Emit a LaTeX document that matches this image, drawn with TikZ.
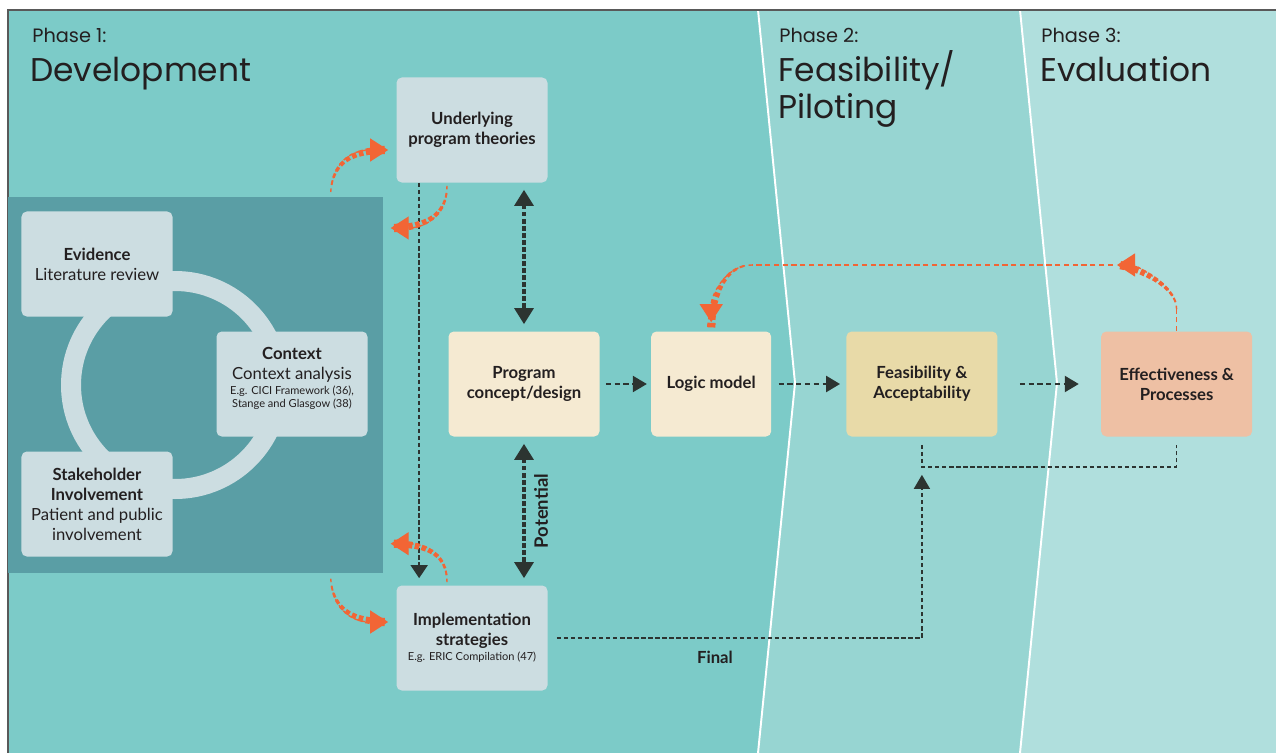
\documentclass[tikz,border=0pt]{standalone}
\usepackage{fontspec}
\setmainfont{Lato}
\newfontfamily\headfont{Poppins}
\usetikzlibrary{arrows.meta,positioning,calc,decorations.markings}
\definecolor{phaseA}{HTML}{7CCBC8}
\definecolor{phaseB}{HTML}{97D5D2}
\definecolor{phaseC}{HTML}{B0DFDD}
\definecolor{panelblue}{HTML}{5A9EA5}
\definecolor{boxgrey}{HTML}{CCDDE1}
\definecolor{cream}{HTML}{F5EAD2}
\definecolor{sand}{HTML}{E8DAA8}
\definecolor{peach}{HTML}{EEC0A4}
\definecolor{loopred}{HTML}{F26535}
\definecolor{ink}{HTML}{231F20}
\definecolor{darrow}{HTML}{2C3431}
\newcommand{\smalltxt}{\fontsize{6.3}{7.4}\selectfont}
\tikzset{
 card/.style={rounded corners=3pt, minimum width=3.02cm, minimum height=2.1cm, align=center, inner sep=1pt, text=ink, font=\fontsize{9.5}{11.4}\selectfont},
 boldcard/.style={card, font=\bfseries\fontsize{9.5}{11.4}\selectfont},
 heading/.style={anchor=base west, inner sep=0, text=ink},
 flow/.style={darrow, line width=1.3pt, dash pattern=on 3pt off 2pt, -{Triangle[length=0.28cm,width=0.32cm]}},
 twoway/.style={darrow, line width=1.8pt, dash pattern=on 2.5pt off 1.5pt, {Triangle[length=0.32cm,width=0.38cm]}-{Triangle[length=0.32cm,width=0.38cm]}, shorten <=0.14cm, shorten >=0.14cm},
 fine/.style={darrow, line width=0.9pt, dash pattern=on 2.5pt off 1.5pt},
 loopfine/.style={loopred, line width=0.9pt, dash pattern=on 3pt off 2pt},
 % orange loop: fine dashes that grow towards the head
 loop/.style={loopred, line width=0.8pt, dash pattern=on 2pt off 2pt, -{Triangle[length=0.36cm,width=0.46cm]},
  postaction={decorate}, decoration={markings,
   mark=between positions 0.12 and 0.93 step 0.09 with {
    \pgfmathsetmacro\w{0.35+0.2*\pgfkeysvalueof{/pgf/decoration/mark info/sequence number}}
    \fill[loopred] (-1.3pt,-\w pt) rectangle (1.3pt,\w pt);}}},
}

\begin{document}
\begin{tikzpicture}[x=0.2mm,y=-0.2mm]
\useasboundingbox (0,0) rectangle (1276,753);
% phases
\fill[phaseA] (8,10) -- (758,10) -- (795,383) -- (758,753) -- (8,753) -- cycle;
\fill[phaseB] (758,10) -- (1020,10) -- (1057,383) -- (1020,753) -- (758,753) -- (795,383) -- cycle;
\fill[phaseC] (1020,10) -- (1276,10) -- (1276,753) -- (1020,753) -- (1057,383) -- cycle;
\draw[white, line width=1.1pt] (758,10) -- (795,383) -- (758,753);
\draw[white, line width=1.1pt] (1020,10) -- (1057,383) -- (1020,753);
\draw[gray!70!black, line width=1.2pt] (8,753) |- (1276,10);

\node[heading, font=\headfont\fontsize{11}{13}\selectfont] (ph1) at (32,43) {Phase 1:};
\node[heading, font=\headfont\fontsize{18.7}{21}\selectfont] (dev) at (30,82) {Development};
\node[heading, font=\headfont\fontsize{11}{13}\selectfont] (ph2) at (779,43) {Phase 2:};
\node[heading, font=\headfont\fontsize{18.7}{21}\selectfont] (feasA) at (778,82) {Feasibility/};
\node[heading, font=\headfont\fontsize{18.7}{21}\selectfont] (feasB) at (778,119) {Piloting};
\node[heading, font=\headfont\fontsize{11}{13}\selectfont] (ph3) at (1041,43) {Phase 3:};
\node[heading, font=\headfont\fontsize{18.7}{21}\selectfont] (eval) at (1040,82) {Evaluation};

% development cycle
\node[fill=panelblue, minimum width=7.5cm, minimum height=7.52cm, inner sep=0, anchor=north west] (panel) at (8,197) {};
\draw[boxgrey, line width=0.4cm] (175,385) circle [radius=2.08cm];
\node[card, fill=boxgrey] (evid) at (97,264) {\textbf{Evidence}\\Literature review};
\node[card, fill=boxgrey] (ctx) at (292,384) {\textbf{Context}\\Context analysis\\[-3pt]{\smalltxt E.g. CICI Framework (36),}\\[-4pt]{\smalltxt Stange and Glasgow (38)}\\[-4pt]\mbox{}};
\node[card, fill=boxgrey] (stake) at (97,504) {\textbf{Stakeholder}\\\textbf{Involvement}\\Patient and public\\involvement};

% main boxes
\node[boldcard, fill=boxgrey] (theory) at (472,130) {Underlying\\program theories};
\node[card, fill=boxgrey] (impl) at (472,638) {\textbf{Implementation}\\\textbf{strategies}\\[-3pt]{\smalltxt E.g. ERIC Compilation (47)}};
\node[boldcard, fill=cream] (prog) at (524,384) {Program\\concept/design};
\node[boldcard, fill=cream, minimum width=2.4cm, right=1.02cm of prog] (logic) {Logic model};
\node[boldcard, fill=sand, right=1.49cm of logic] (feas) {Feasibility \&\\Acceptability};
\node[boldcard, fill=peach, right=2.06cm of feas] (eff) {Effectiveness \&\\Processes};

% dark connectors
\draw[fine, -{Triangle[length=0.26cm,width=0.34cm]}, shorten >=0.14cm] ($(theory.south west)+(23,0)$) -- ($(impl.north west)+(23,0)$);
\draw[twoway] (theory.south -| prog.north) -- (prog.north);
\draw[twoway] (prog.south) -- (impl.north -| prog.south) node[midway, xshift=0.34cm, rotate=90, text=ink, font=\bfseries\fontsize{10.5}{12}\selectfont] (pot) {Potential};
\draw[flow, shorten <=0.12cm, shorten >=0.08cm] (prog) -- (logic);
\draw[flow, shorten <=0.14cm, shorten >=0.12cm] (logic) -- (feas);
\draw[flow, shorten <=0.44cm, shorten >=0.44cm] (feas) -- (eff);
\draw[fine, -{Triangle[length=0.28cm,width=0.32cm]}] ($(impl.east)+(9,0)$) -| ($(feas.south)+(0,38)$);
\node[text=ink, font=\bfseries\fontsize{9.5}{11}\selectfont] (final) at (715,657) {Final};
\draw[fine] ($(feas.south)+(0,8)$) -- ++(0,22) -| ($(eff.south)+(0,8)$);

% orange feedback loops
\draw[loop] ($(panel.north east)+(-53,-5)$) .. controls ++(2,-27) and ++(-40,0) .. ($(theory.west)+(-8,20)$);
\draw[loop] ($(theory.south)+(-25,3)$) .. controls ++(0,29) and ++(35,0) .. ($(panel.north east)+(7,31)$);
\draw[loop] ($(impl.north)+(-25,-3)$) .. controls ++(0,-29) and ++(35,0) .. ($(panel.south east)+(7,-30)$);
\draw[loop] ($(panel.south east)+(-53,5)$) .. controls ++(2,27) and ++(-40,0) .. ($(impl.west)+(-8,-16)$);
\coordinate (topR) at (1113,265);
\coordinate (topL) at (752,265);
\draw[loopfine] (eff.north) -- ++(0,-22);
\draw[loop] ($(eff.north)+(0,-22)$) .. controls ++(0,-25) and ++(15,0) .. ($(topR)+(4,0)$);
\draw[loopfine] (topR) -- (topL);
\draw[loop, shorten >=0.18cm] (topL) .. controls ++(-27,0) and ++(0,-35) .. (logic.north);
\end{tikzpicture}
\end{document}
